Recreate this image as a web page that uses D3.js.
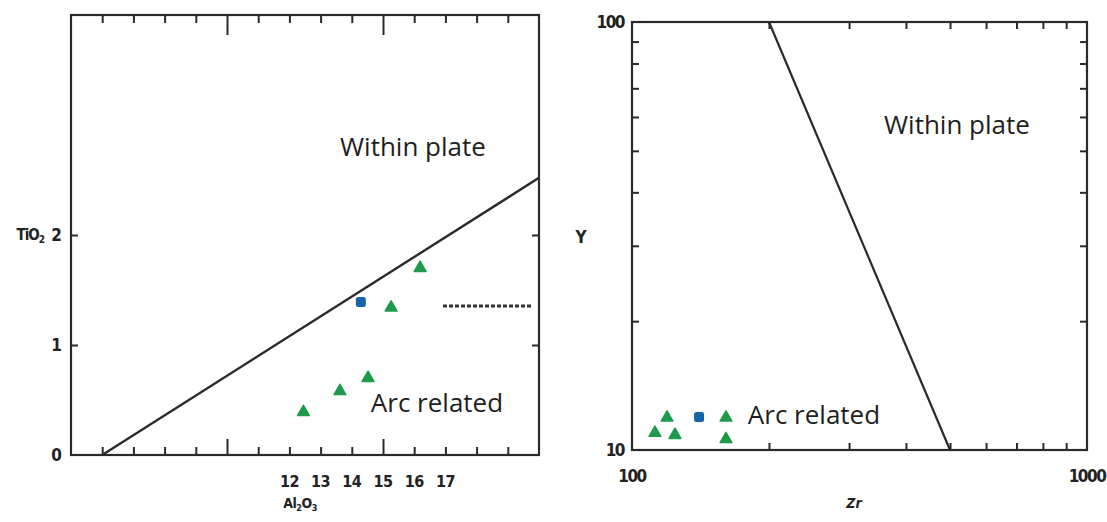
<!DOCTYPE html>
<html><head><meta charset="utf-8">
<script src="https://cdn.jsdelivr.net/npm/d3@7"></script>
<style>
html,body{margin:0;padding:0;background:#fff;}
svg{display:block;}
.lab{font-family:"DejaVu Sans Condensed","DejaVu Sans",sans-serif;font-weight:bold;fill:#222;}
.reg{font-family:"Open Sans","Noto Sans",sans-serif;fill:#1e1e1e;}
</style>
</head><body>
<script>
// ---- data ----
// Left panel: TiO2 vs Al2O3
const leftGreenAl = [12.45, 13.62, 14.52, 15.26, 16.19];
const leftGreenTi = [0.39, 0.58, 0.70, 1.34, 1.70];
const leftBlueAl = [14.29];
const leftBlueTi = [1.39];
const leftBoundaryAl = [6, 20];
const leftBoundaryTi = [0, 2.52];
const leftXTickLabels = [12, 13, 14, 15, 16, 17];
const leftYTickLabels = [0, 1, 2];
// Right panel: Y vs Zr (log-log)
const rightGreenZr = [119.4, 112.3, 124.3, 160.9, 160.9];
const rightGreenY = [11.9, 10.96, 10.84, 11.9, 10.6];
const rightBlueZr = [140.4];
const rightBlueY = [11.94];
const rightBoundaryZr = [200, 500];
const rightBoundaryY = [100, 10];
const rightXTickLabels = [100, 1000];
const rightYTickLabels = [10, 100];

const W = 1107, H = 522;
const GREEN = "#1e9a4c", BLUE = "#1764a8", INK = "#2a2a2a";

const svg = d3.select("body").append("svg").attr("width", W).attr("height", H);

// ---------- LEFT PANEL ----------
const xL = d3.scaleLinear().domain([5, 20]).range([71, 539]);
const yL = d3.scaleLinear().domain([0, 4]).range([455, 15]);
const gL = svg.append("g");

const allX = d3.range(6, 20);
const minorX = allX.filter(v => v % 5 !== 0);
const majorX = allX.filter(v => v % 5 === 0);

function tickAxis(g, axis) {
  g.call(axis);
  g.select(".domain").remove();
  g.selectAll(".tick line").attr("stroke", INK).attr("stroke-width", 2);
  g.selectAll(".tick text").remove();
}
// bottom ticks (inward)
tickAxis(gL.append("g").attr("transform", `translate(0,${yL(0)})`),
  d3.axisBottom(xL).tickValues(minorX).tickSize(-8));
tickAxis(gL.append("g").attr("transform", `translate(0,${yL(0)})`),
  d3.axisBottom(xL).tickValues(majorX).tickSize(-16));
// top ticks
tickAxis(gL.append("g").attr("transform", `translate(0,${yL(4)})`),
  d3.axisTop(xL).tickValues(minorX).tickSize(-8));
tickAxis(gL.append("g").attr("transform", `translate(0,${yL(4)})`),
  d3.axisTop(xL).tickValues(majorX).tickSize(-20));
// left ticks
tickAxis(gL.append("g").attr("transform", `translate(${xL(5)},0)`),
  d3.axisLeft(yL).tickValues([1, 2]).tickSize(-7));
// right ticks
tickAxis(gL.append("g").attr("transform", `translate(${xL(20)},0)`),
  d3.axisRight(yL).tickValues([1, 2]).tickSize(-7));

// frame
gL.append("rect").attr("x", xL(5)).attr("y", yL(4))
  .attr("width", xL(20) - xL(5)).attr("height", yL(0) - yL(4))
  .attr("fill", "none").attr("stroke", INK).attr("stroke-width", 2.2);

// tick labels
gL.selectAll(".xl").data(leftXTickLabels).join("text").attr("class", "lab")
  .attr("x", d => xL(d)).attr("y", 487).attr("text-anchor", "middle")
  .attr("font-size", 16).attr("letter-spacing", -0.5).text(d => d);
gL.selectAll(".yl").data(leftYTickLabels).join("text").attr("class", "lab")
  .attr("x", 62).attr("y", d => yL(d) + 6).attr("text-anchor", "end")
  .attr("font-size", 17).text(d => d);
gL.append("text").attr("class", "lab").attr("x", 44).attr("y", yL(2) + 5)
  .attr("text-anchor", "end").attr("font-size", 15).attr("letter-spacing", -1)
  .html('TiO<tspan font-size="10" dy="3">2</tspan>');
gL.append("text").attr("class", "lab").attr("x", 300).attr("y", 508)
  .attr("text-anchor", "middle").attr("font-size", 14).attr("letter-spacing", -0.5)
  .html('Al<tspan font-size="9" dy="3">2</tspan><tspan dy="-3">O</tspan><tspan font-size="9" dy="3">3</tspan>');

// boundary line
const lineL = d3.line().x(d => xL(d[0])).y(d => yL(d[1]));
gL.append("path").datum(d3.zip(leftBoundaryAl, leftBoundaryTi))
  .attr("d", lineL).attr("fill", "none").attr("stroke", INK).attr("stroke-width", 2.4);

// remnant dashed label
gL.append("line").attr("x1", 443).attr("x2", 531).attr("y1", 306).attr("y2", 306)
  .attr("stroke", "#333").attr("stroke-width", 3).attr("stroke-dasharray", "4,2");

// region labels
gL.append("text").attr("class", "reg").attr("x", 413).attr("y", 156)
  .attr("text-anchor", "middle").attr("font-size", 26).text("Within plate");
gL.append("text").attr("class", "reg").attr("x", 437).attr("y", 412)
  .attr("text-anchor", "middle").attr("font-size", 26).text("Arc related");

// markers
const tri = d3.symbol().type(d3.symbolTriangle).size(60);
gL.selectAll(".gt").data(d3.zip(leftGreenAl, leftGreenTi)).join("path")
  .attr("d", tri).attr("fill", GREEN)
  .attr("stroke", GREEN).attr("stroke-width", 1.5).attr("stroke-linejoin", "round")
  .attr("transform", d => `translate(${xL(d[0])},${yL(d[1])})`);
gL.selectAll(".bs").data(d3.zip(leftBlueAl, leftBlueTi)).join("rect")
  .attr("x", d => xL(d[0]) - 5).attr("y", d => yL(d[1]) - 5)
  .attr("width", 10).attr("height", 10).attr("rx", 2.5).attr("fill", BLUE);

// ---------- RIGHT PANEL ----------
const xR = d3.scaleLog().domain([100, 1000]).range([632, 1087]);
const yR = d3.scaleLog().domain([10, 100]).range([450, 22]);
const gR = svg.append("g");
const minorR = d3.range(200, 1000, 100);
const minorRY = d3.range(20, 100, 10);

tickAxis(gR.append("g").attr("transform", `translate(0,${yR(10)})`),
  d3.axisBottom(xR).tickValues(minorR).tickSize(-7));
tickAxis(gR.append("g").attr("transform", `translate(0,${yR(100)})`),
  d3.axisTop(xR).tickValues(minorR).tickSize(-7));
tickAxis(gR.append("g").attr("transform", `translate(${xR(100)},0)`),
  d3.axisLeft(yR).tickValues(minorRY).tickSize(-7));
tickAxis(gR.append("g").attr("transform", `translate(${xR(1000)},0)`),
  d3.axisRight(yR).tickValues(minorRY).tickSize(-7));

gR.append("rect").attr("x", xR(100)).attr("y", yR(100))
  .attr("width", xR(1000) - xR(100)).attr("height", yR(10) - yR(100))
  .attr("fill", "none").attr("stroke", INK).attr("stroke-width", 2.2);

gR.selectAll(".xr").data(rightXTickLabels).join("text").attr("class", "lab")
  .attr("x", d => xR(d)).attr("y", 482).attr("text-anchor", "middle")
  .attr("font-size", 17).attr("letter-spacing", -1.5).text(d => d);
gR.selectAll(".yr").data(rightYTickLabels).join("text").attr("class", "lab")
  .attr("x", 624).attr("y", d => yR(d) + 6).attr("text-anchor", "end")
  .attr("font-size", 17).attr("letter-spacing", -1.5).text(d => d);
gR.append("text").attr("class", "lab").attr("x", 581).attr("y", 243)
  .attr("text-anchor", "middle").attr("font-size", 17).text("Y");
gR.append("text").attr("class", "lab").attr("x", 854).attr("y", 508)
  .attr("text-anchor", "middle").attr("font-size", 14).attr("font-style", "italic").text("Zr");

const lineR = d3.line().x(d => xR(d[0])).y(d => yR(d[1]));
gR.append("path").datum(d3.zip(rightBoundaryZr, rightBoundaryY))
  .attr("d", lineR).attr("fill", "none").attr("stroke", INK).attr("stroke-width", 2.2);

gR.append("text").attr("class", "reg").attr("x", 957).attr("y", 134)
  .attr("text-anchor", "middle").attr("font-size", 26).text("Within plate");
gR.append("text").attr("class", "reg").attr("x", 814).attr("y", 424)
  .attr("text-anchor", "middle").attr("font-size", 26).text("Arc related");

gR.selectAll(".gt").data(d3.zip(rightGreenZr, rightGreenY)).join("path")
  .attr("d", tri).attr("fill", GREEN)
  .attr("stroke", GREEN).attr("stroke-width", 1.5).attr("stroke-linejoin", "round")
  .attr("transform", d => `translate(${xR(d[0])},${yR(d[1])})`);
gR.selectAll(".bs").data(d3.zip(rightBlueZr, rightBlueY)).join("rect")
  .attr("x", d => xR(d[0]) - 5).attr("y", d => yR(d[1]) - 5)
  .attr("width", 10).attr("height", 10).attr("rx", 2.5).attr("fill", BLUE);
</script>
</body></html>
